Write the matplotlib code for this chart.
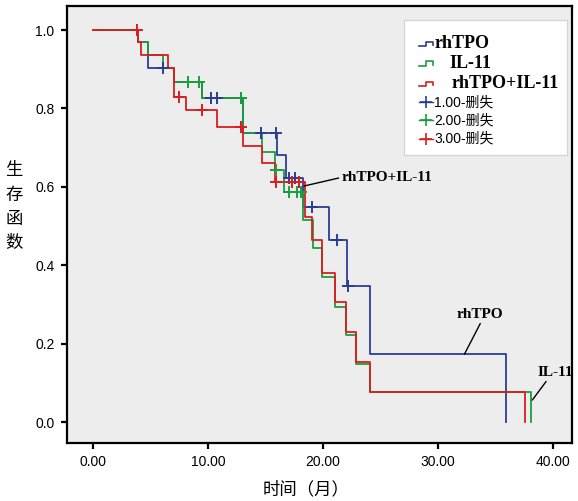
import matplotlib
matplotlib.use('Agg')
import matplotlib.pyplot as plt
from matplotlib.patches import Rectangle
import numpy as np

# ---------------- data ----------------
groups = ['rhTPO', 'IL-11', 'rhTPO+IL-11']
censor_labels = ['1.00-删失', '2.00-删失', '3.00-删失']

rhtpo_t = [0, 3.9, 4.8, 7.0, 9.45, 13.0, 16.0, 16.8, 18.3, 20.5, 22.05, 24.1, 35.9]
rhtpo_s = [1.0, 0.969, 0.903, 0.868, 0.826, 0.737, 0.68, 0.622, 0.549, 0.464, 0.348, 0.173, 0.0]
rhtpo_cens = [6.1, 10.3, 10.75, 12.9, 14.6, 15.9, 17.0, 17.6, 19.0, 21.2, 22.2]

il11_t = [0, 3.9, 4.8, 6.1, 7.0, 9.45, 13.0, 14.7, 15.8, 16.6, 18.3, 19.1, 19.9, 21.0, 22.0, 22.9, 24.1, 38.05]
il11_s = [1.0, 0.969, 0.936, 0.903, 0.868, 0.826, 0.737, 0.69, 0.643, 0.587, 0.515, 0.444, 0.371, 0.294, 0.222, 0.148, 0.077, 0.0]
il11_cens = [8.3, 9.2, 12.9, 15.9, 17.0, 17.7, 18.1]

combo_t = [0, 3.9, 4.2, 6.5, 7.0, 8.1, 10.75, 13.0, 14.7, 15.85, 18.4, 19.0, 19.9, 21.0, 22.0, 22.9, 24.1, 37.6]
combo_s = [1.0, 0.969, 0.936, 0.903, 0.83, 0.796, 0.752, 0.705, 0.66, 0.613, 0.524, 0.464, 0.379, 0.307, 0.230, 0.154, 0.077, 0.0]
combo_cens = [3.85, 7.5, 9.45, 12.9, 15.9, 17.3, 17.9]

x_ticks = [0, 10, 20, 30, 40]
y_ticks = [0.0, 0.2, 0.4, 0.6, 0.8, 1.0]

colors = ['#2a3d95', '#1a9e3e', '#d81e1e']

W, H = 578, 501
fig = plt.figure(figsize=(W / 100, H / 100), dpi=100)
fig.patch.set_facecolor('white')

L, R, T, B = 67, 572, 6, 443
ax = fig.add_axes([L / W, (H - B) / H, (R - L) / W, (B - T) / H])
ax.set_facecolor('#ededed')

# pixel-> data mapping from reference: x: 0 at px93, 11.5 px/unit ; y: 0 at py422, 392 px/unit
ax.set_xlim((L - 93) / 11.5, (R - 93) / 11.5)
ax.set_ylim((422 - B) / 392, (422 - T) / 392)


def step_val(ts, ss, t):
    idx = np.searchsorted(np.array(ts), t, side='right') - 1
    return ss[idx]


series = [(rhtpo_t, rhtpo_s, rhtpo_cens), (il11_t, il11_s, il11_cens), (combo_t, combo_s, combo_cens)]
for (ts, ss, cens), c in zip(series, colors):
    ax.step(ts, ss, where='post', color=c, lw=1.3, zorder=3)
    cv = [step_val(ts, ss, t) for t in cens]
    ax.plot(cens, cv, linestyle='none', marker='+', markersize=8, mew=1.4, color=c, zorder=4)

for sp in ax.spines.values():
    sp.set_linewidth(1.6)
    sp.set_color('black')

ax.set_xticks(x_ticks)
ax.set_xticklabels([f'{v:.2f}' for v in x_ticks])
ax.set_yticks(y_ticks)
ax.set_yticklabels([f'{v:.1f}' for v in y_ticks])
ax.tick_params(axis='both', direction='out', length=4, width=1.6, colors='black',
               labelsize=10, pad=5)
for lab in ax.get_xticklabels() + ax.get_yticklabels():
    lab.set_fontfamily('Liberation Sans')

# annotations
serif = dict(family='Liberation Serif', weight='bold', size=11)
ax.annotate('rhTPO+IL-11', xy=(18.35, 0.602), xytext=(21.6, 0.624), ha='left', va='center',
            arrowprops=dict(arrowstyle='-', color='black', lw=1.0, shrinkA=0, shrinkB=0, relpos=(0, 0.5)),
            **serif)
ax.annotate('rhTPO', xy=(32.3, 0.173), xytext=(33.6, 0.275), ha='center', va='center',
            arrowprops=dict(arrowstyle='-', color='black', lw=1.0, shrinkA=0, shrinkB=0, relpos=(0.55, 0)),
            **serif)
ax.annotate('IL-11', xy=(38.2, 0.056), xytext=(40.2, 0.127), ha='center', va='center',
            annotation_clip=False,
            arrowprops=dict(arrowstyle='-', color='black', lw=1.0, shrinkA=0, shrinkB=0, relpos=(0.3, 0)),
            **serif)


# ---------------- legend (drawn manually) ----------------
def fx(px):
    return px / W


def fy(py):
    return 1 - py / H


fig.patches.append(Rectangle((fx(404), fy(155)), fx(567) - fx(404), fy(20) - fy(155),
                             transform=fig.transFigure, facecolor='white', edgecolor='#d5d5d5',
                             lw=1.0, zorder=5))
rows_main = [43.5, 63, 83.5]
text_x_main = [435, 449, 452]
for g, c, py, tx in zip(groups, colors, rows_main, text_x_main):
    xs = [fx(419), fx(426), fx(426), fx(433), fx(433)]
    ys = [fy(py + 2.5), fy(py + 2.5), fy(py - 2), fy(py - 2), fy(py + 1.5)]
    fig.add_artist(plt.Line2D(xs, ys, transform=fig.transFigure, color=c, lw=1.2, zorder=6))
    fig.text(fx(tx), fy(py), g, ha='left', va='center', family='Liberation Serif',
             weight='bold', size=13, zorder=6)

rows_c = [102, 120, 138.5]
for lab, c, py in zip(censor_labels, colors, rows_c):
    fig.add_artist(plt.Line2D([fx(419), fx(433)], [fy(py), fy(py)], transform=fig.transFigure,
                              color=c, lw=1.0, zorder=6))
    fig.add_artist(plt.Line2D([fx(426)], [fy(py)], transform=fig.transFigure, color=c,
                              marker='+', markersize=9, mew=1.2, linestyle='none', zorder=6))
    fig.text(fx(434), fy(py), lab, ha='left', va='center',
             family=['Liberation Sans', 'Noto Sans CJK SC'], size=10, zorder=6)

# axis titles
fig.text(fx(306), fy(489), '时间（月）', ha='center', va='center',
         family=['Noto Sans CJK SC'], size=12.5)
for ch, py in zip('生存函数', [170, 195, 219.5, 243]):
    fig.text(fx(14), fy(py), ch, ha='center', va='center', family=['Noto Sans CJK SC'], size=12.5)

fig.savefig('out.png', dpi=100, facecolor='white')
